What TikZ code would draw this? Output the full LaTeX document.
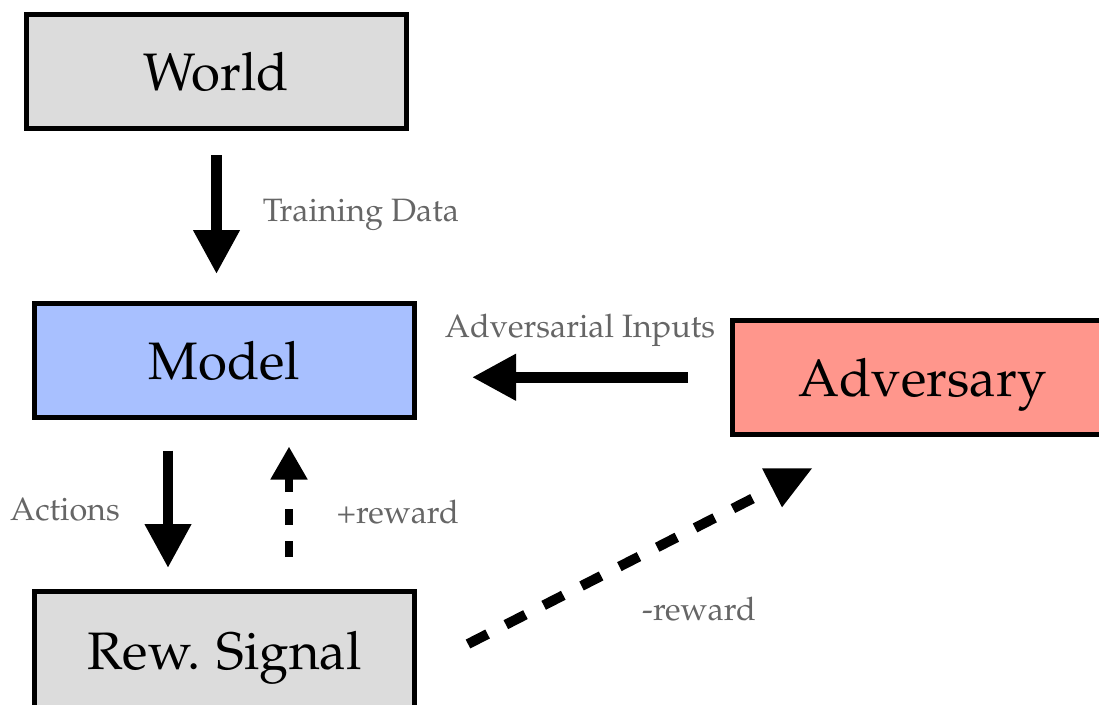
\documentclass[tikz,border=0pt]{standalone}
\usepackage[T1]{fontenc}
\usepackage{mathpazo}
\usetikzlibrary{shapes,arrows.meta,positioning}
\definecolor{boxgray}{RGB}{220,220,220}
\definecolor{modelblue}{RGB}{168,192,255}
\definecolor{advred}{RGB}{255,150,140}
\definecolor{labelgray}{RGB}{102,102,102}

\begin{document}
\begin{tikzpicture}[
    node distance=3.39cm,
    box/.style={draw, line width=0.1cm, minimum width=7.6cm, minimum height=2.28cm, text depth=0pt, font=\fontsize{30}{36}\selectfont},
    arrow/.style={-{Triangle[width=0.88cm, length=0.88cm]}, line width=0.21cm},
    dasharrow/.style={-{Triangle[width=0.7cm, length=0.66cm]}, line width=0.16cm, dash pattern=on 0.32cm off 0.33cm},
    lbl/.style={text=labelgray, inner sep=0pt, font=\fontsize{18.4}{22}\selectfont}
]
\useasboundingbox (-4.33,-12.65) rectangle (17.65,1.43);
\node[box, fill=boxgray] (world) {World};
\node[box, fill=modelblue, below=of world, xshift=0.16cm] (model) {Model};
\node[box, fill=boxgray, below=of model, minimum height=2.36cm] (signal) {Rew. Signal};
\node[box, fill=advred, right=6.26cm of model, yshift=-0.345cm] (adversary) {Adversary};
\draw[arrow] ([yshift=-0.48cm]world.south) -- ([xshift=-0.16cm, yshift=0.53cm]model.north)
    node[lbl, midway, anchor=west, xshift=0.82cm] {Training Data};
\draw[arrow] ([xshift=-1.13cm, yshift=-0.62cm]model.south) -- ([xshift=-1.13cm, yshift=0.42cm]signal.north)
    node[lbl, midway, anchor=east, xshift=-0.86cm] {Actions};
\draw[dasharrow] ([xshift=1.29cm, yshift=0.64cm]signal.north) -- ([xshift=1.29cm, yshift=-0.54cm]model.south)
    node[lbl, midway, anchor=west, xshift=0.87cm, yshift=-0.2cm] {+reward};
\draw[arrow] ([xshift=-0.84cm]adversary.west) -- ([xshift=1.1cm, yshift=-0.345cm]model.east)
    node[lbl, midway, above=0.5cm] {Adversarial Inputs};
% -reward line, its head is a flat-topped triangle
\coordinate (advend) at ([xshift=-3.35cm, yshift=-1.21cm]adversary.south);
\coordinate (headl) at ([xshift=-3.21cm, yshift=-0.63cm]adversary.south);
\coordinate (headr) at ([xshift=-2.21cm, yshift=-0.63cm]adversary.south);
\coordinate (headb) at ([xshift=-2.81cm, yshift=-1.41cm]adversary.south);
\draw[line width=0.2cm, dash pattern=on 0.44cm off 0.41cm] ([xshift=1.02cm, yshift=0.13cm]signal.east) -- (advend)
    node[lbl, midway, xshift=1.75cm, yshift=-0.77cm] {-reward};
\fill (headl) -- (headr) -- (headb) -- cycle;
\end{tikzpicture}
\end{document}
